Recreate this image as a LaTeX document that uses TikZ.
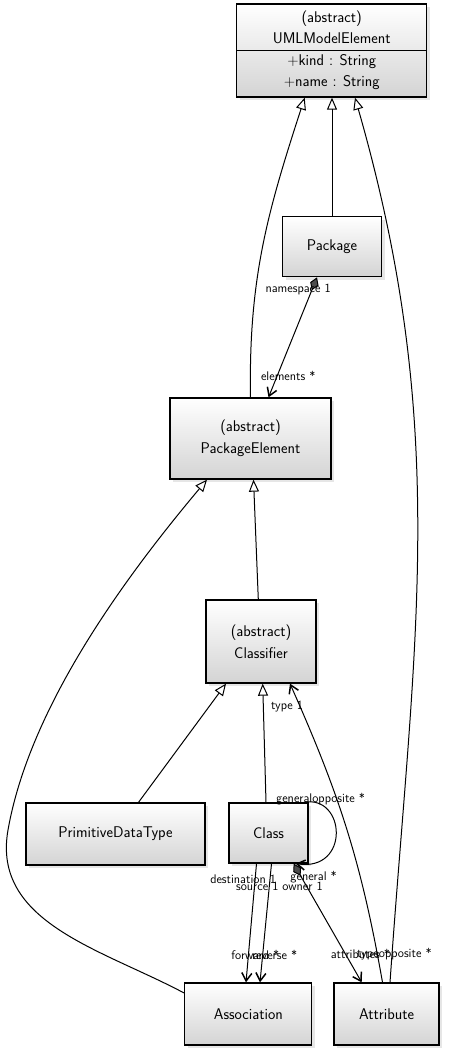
\documentclass[tikz,border=0pt]{standalone}
\usetikzlibrary{arrows.meta, shadows}

\tikzset{
  umlbox/.style={draw, line width=1.3pt, top color=white, bottom color=black!17,
    drop shadow={shadow xshift=3pt, shadow yshift=-3pt, opacity=0.2},
    align=center, inner sep=2pt, font=\sffamily\fontsize{15.5}{21.5}\selectfont},
  inherit/.style={-{Triangle[open, length=12pt, width=10pt]}, line width=1pt},
  assoc/.style={-{Straight Barb[length=8pt, width=10pt, line width=1.5pt]}, line width=1pt},
  comp/.style={{Diamond[length=14pt, width=9pt, fill=black!70]}-{Straight Barb[length=8pt, width=10pt, line width=1.5pt]}, line width=1pt},
  lbl/.style={font=\sffamily\fontsize{12.5}{14}\selectfont, inner sep=0pt}
}

\begin{document}
\begin{tikzpicture}[x=1pt, y=1pt]
  \useasboundingbox (0,0) rectangle (452,-1051);

  % Classes
  \node[umlbox, minimum width=190pt, minimum height=93pt] (uml) at (331.7,-50.5)
    {(abstract)\\UMLModelElement\\+kind : String\\+name : String};
  \draw[line width=1.3pt] (uml.west) -- (uml.east);
  \node[umlbox, minimum width=99pt, minimum height=60pt] (pkg) at (332,-246.7) {Package};
  \node[umlbox, minimum width=161pt, minimum height=81pt] (pkgel) at (250.5,-438.5) {(abstract)\\PackageElement};
  \node[umlbox, minimum width=110pt, minimum height=83pt] (clsf) at (261,-641.5) {(abstract)\\Classifier};
  \node[umlbox, minimum width=179pt, minimum height=62pt] (prim) at (115.5,-834) {PrimitiveDataType};
  \node[umlbox, minimum width=79pt, minimum height=60pt] (cls) at (268.5,-833) {Class};
  \node[umlbox, minimum width=127pt, minimum height=62pt] (assoc) at (248.3,-1014) {Association};
  \node[umlbox, minimum width=105pt, minimum height=62pt] (attr) at (386.5,-1014) {Attribute};
  \coordinate (bend) at (8,-830);

  % Generalisations
  \draw[inherit] (pkg.north) -- (pkg.north |- uml.south);
  \draw[inherit] (pkgel.north) to[out=91, in=-108] ([xshift=-27pt]uml.south);
  \draw[inherit] ([xshift=3.5pt]attr.north) to[out=86, in=-74] ([xshift=23.3pt]uml.south);
  \draw[inherit] ([xshift=-2.7pt]clsf.north) -- ([xshift=3pt]pkgel.south);
  \draw[inherit] ([yshift=21pt]assoc.west) to[out=152, in=-100] (bend)
    to[out=80, in=230, looseness=0.8] ([xshift=-43.5pt]pkgel.south);
  \draw[inherit] ([xshift=23pt]prim.north) -- ([xshift=-35pt]clsf.south);
  \draw[inherit] ([xshift=-2.5pt]cls.north) -- ([xshift=1.7pt]clsf.south);

  % Associations
  \draw[comp] ([xshift=-15pt]pkg.south) --
    node[lbl, pos=0.1, xshift=-14pt] {namespace 1}
    node[lbl, pos=0.82, xshift=11pt] {elements *} ([xshift=18pt]pkgel.north);
  \draw[assoc] ([xshift=-4pt]attr.north) to[out=100, in=-66]
    node[lbl, pos=0.08, xshift=17pt] {typeopposite *}
    node[lbl, pos=0.93, xshift=-13pt] {type 1} ([xshift=29pt]clsf.south);
  \draw[assoc] ([xshift=-5pt]cls.north east) .. controls +(42,8) and +(55,-8) ..
    node[lbl, pos=0, xshift=17pt, yshift=3pt] {generalopposite *}
    node[lbl, pos=1, xshift=18pt, yshift=-13pt] {general *} ([xshift=-13pt]cls.south east);
  \draw[assoc] ([xshift=-12pt]cls.south) --
    node[lbl, pos=0.13, xshift=-12pt] {destination 1}
    node[lbl, pos=0.77, xshift=7pt] {forward *} ([xshift=-2.3pt]assoc.north);
  \draw[assoc] ([xshift=3pt]cls.south) --
    node[lbl, pos=0.19, xshift=-12pt] {source 1}
    node[lbl, pos=0.77, xshift=12pt] {reverse *} ([xshift=11.7pt]assoc.north);
  \draw[comp] ([xshift=-15pt]cls.south east) --
    node[lbl, pos=0.19, xshift=-4pt] {owner 1}
    node[lbl, pos=0.76, xshift=15pt] {attributes *} ([xshift=-24.8pt]attr.north);
\end{tikzpicture}
\end{document}
